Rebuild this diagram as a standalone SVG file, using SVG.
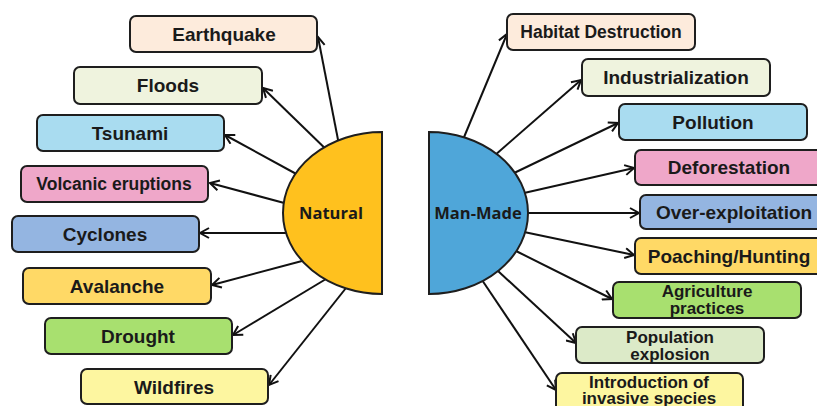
<svg xmlns="http://www.w3.org/2000/svg" width="817" height="406" viewBox="0 0 817 406">
<style>
.bx{stroke:#1e1e1e;stroke-width:2}
.t{font-family:"Liberation Sans",Arial,sans-serif;font-weight:bold;font-size:19px;fill:#1a1a1a;text-anchor:middle}
.s{font-size:17.5px}
.m{font-size:17px}
.c{font-family:"Open Sans","Liberation Sans",sans-serif;font-weight:bold;font-size:16.5px;fill:#1a1a1a;text-anchor:middle}
.ln{stroke:#111;stroke-width:2;fill:none;marker-end:url(#ah)}
</style>
<defs>
<marker id="ah" markerUnits="userSpaceOnUse" markerWidth="12" markerHeight="12" refX="10" refY="6" orient="auto">
<path d="M1,1 L10,6 L1,11" fill="none" stroke="#111" stroke-width="2"/>
</marker>
</defs>
<g id="connectors">
<line class="ln" x1="340" y1="150" x2="318" y2="37"/>
<line class="ln" x1="335" y1="158" x2="263" y2="88"/>
<line class="ln" x1="300" y1="176" x2="225" y2="135"/>
<line class="ln" x1="288" y1="204" x2="210" y2="183"/>
<line class="ln" x1="288" y1="233" x2="200" y2="233"/>
<line class="ln" x1="302" y1="261" x2="212" y2="285"/>
<line class="ln" x1="326" y1="279" x2="233" y2="335"/>
<line class="ln" x1="346" y1="288" x2="269" y2="385"/>
<line class="ln" x1="462" y1="142" x2="507" y2="34"/>
<line class="ln" x1="494" y1="156" x2="581" y2="80"/>
<line class="ln" x1="512" y1="174" x2="618" y2="123"/>
<line class="ln" x1="524" y1="193" x2="634" y2="168"/>
<line class="ln" x1="524" y1="213" x2="639" y2="213"/>
<line class="ln" x1="524" y1="232" x2="634" y2="255"/>
<line class="ln" x1="516" y1="251" x2="612" y2="299"/>
<line class="ln" x1="498" y1="271" x2="576" y2="343"/>
<line class="ln" x1="482" y1="280" x2="556" y2="390"/>
</g>
<g id="natural">
<path d="M382,132 A99,81 0 0 0 382,294 Z" fill="#FFC11E" class="bx"/>
<text class="c" x="331" y="219">Natural</text>
</g>
<g id="manmade">
<path d="M429,132 A99,81 0 0 1 429,294 Z" fill="#4FA6D9" class="bx"/>
<text class="c" x="478" y="219">Man-Made</text>
</g>
<g id="earthquake"><rect class="bx" x="130" y="16" width="187" height="36" rx="6" fill="#FDEBDC"/><text class="t" x="224" y="41">Earthquake</text></g>
<g id="floods"><rect class="bx" x="74" y="67" width="188" height="37" rx="6" fill="#EFF3DE"/><text class="t" x="168" y="92">Floods</text></g>
<g id="tsunami"><rect class="bx" x="37" y="115" width="187" height="36" rx="6" fill="#A9DCF0"/><text class="t" x="130" y="140">Tsunami</text></g>
<g id="volcanic"><rect class="bx" x="21" y="166" width="187" height="36" rx="6" fill="#EFA7C9"/><text class="t s" x="114" y="190">Volcanic eruptions</text></g>
<g id="cyclones"><rect class="bx" x="12" y="216" width="187" height="36" rx="6" fill="#94B5E1"/><text class="t" x="105" y="241">Cyclones</text></g>
<g id="avalanche"><rect class="bx" x="23" y="268" width="188" height="36" rx="6" fill="#FFD966"/><text class="t" x="117" y="293">Avalanche</text></g>
<g id="drought"><rect class="bx" x="45" y="318" width="187" height="36" rx="6" fill="#A8E06F"/><text class="t" x="138" y="343">Drought</text></g>
<g id="wildfires"><rect class="bx" x="81" y="369" width="187" height="35" rx="6" fill="#FDF6A0"/><text class="t" x="174" y="394">Wildfires</text></g>
<g id="habitat"><rect class="bx" x="507" y="14" width="188" height="36" rx="6" fill="#FDEBDC"/><text class="t s" x="601" y="38">Habitat Destruction</text></g>
<g id="industrialization"><rect class="bx" x="582" y="59" width="188" height="37" rx="6" fill="#EFF3DE"/><text class="t" x="676" y="84">Industrialization</text></g>
<g id="pollution"><rect class="bx" x="619" y="104" width="188" height="36" rx="6" fill="#A9DCF0"/><text class="t" x="713" y="129">Pollution</text></g>
<g id="deforestation"><rect class="bx" x="635" y="150" width="188" height="35" rx="6" fill="#EFA7C9"/><text class="t" x="729" y="174">Deforestation</text></g>
<g id="overexploitation"><rect class="bx" x="640" y="195" width="188" height="34" rx="6" fill="#94B5E1"/><text class="t" x="734" y="219">Over-exploitation</text></g>
<g id="poaching"><rect class="bx" x="635" y="238" width="188" height="36" rx="6" fill="#FFD966"/><text class="t" x="729" y="263">Poaching/Hunting</text></g>
<g id="agriculture"><rect class="bx" x="613" y="282" width="188" height="36" rx="6" fill="#A8E06F"/><text class="t m" x="707" y="297">Agriculture</text><text class="t m" x="707" y="314">practices</text></g>
<g id="population"><rect class="bx" x="576" y="327" width="188" height="36" rx="6" fill="#DCEAC8"/><text class="t m" x="670" y="343">Population</text><text class="t m" x="670" y="360">explosion</text></g>
<g id="introduction"><rect class="bx" x="556" y="373" width="187" height="40" rx="6" fill="#FDF6A0"/><text class="t m" x="649" y="388">Introduction of</text><text class="t m" x="649" y="404">invasive species</text></g>
</svg>
